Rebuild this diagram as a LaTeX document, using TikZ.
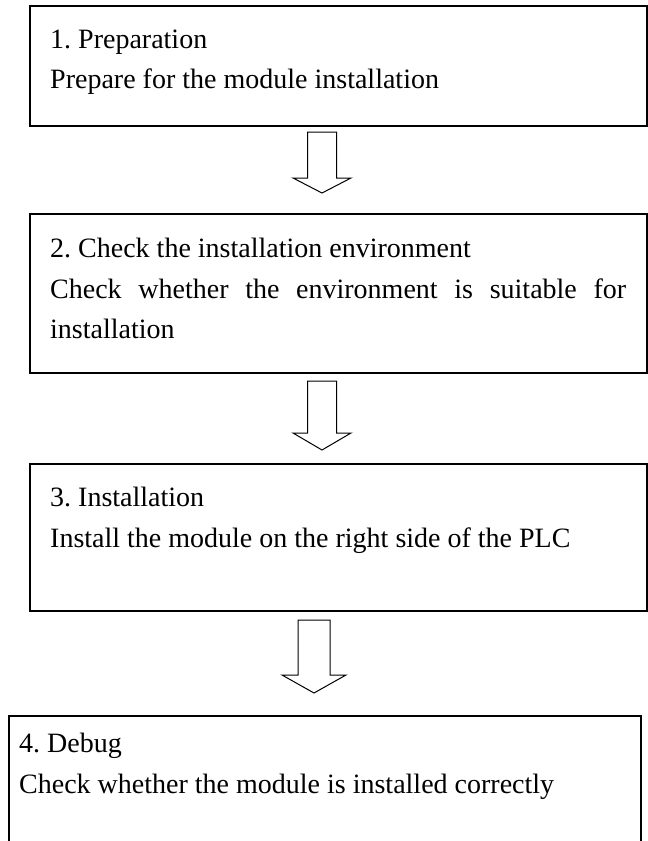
\documentclass[tikz,border=0pt]{standalone}
\usepackage{fontspec}
\setmainfont{Liberation Serif}
\usetikzlibrary{positioning}
\frenchspacing
\tikzset{
    stepbox/.style={draw, rectangle, line width=1.8pt, inner sep=0pt, outer sep=0pt, anchor=north west},
    steptext/.style={anchor=base west, inner sep=0pt, font=\fontsize{28}{40}\selectfont},
    flowarrow/.style={draw, line width=1pt, line join=miter}
}
\newcommand{\hollowdown}[6]{%
    \path[flowarrow] (#1-#5,#2) -- (#1+#5,#2) -- (#1+#5,#3) -- (#1+#6,#3)
        -- (#1,#4) -- (#1-#6,#3) -- (#1-#5,#3) -- cycle;}

\begin{document}
\begin{tikzpicture}[x=1pt, y=-1pt]
    \useasboundingbox (0,0) rectangle (648,841);

    \node[stepbox, minimum width=617pt, minimum height=120pt] (prep) at (30,6) {};
    \node[stepbox, minimum width=617pt, minimum height=159pt] (env) at (30,214) {};
    \node[stepbox, minimum width=617pt, minimum height=147pt] (inst) at (30,464) {};
    \node[stepbox, minimum width=632pt, minimum height=200pt] (debug) at (9,716) {};

    \node[steptext] (prep1) at (50,48) {1. Preparation};
    \node[steptext] (prep2) at (50,88) {Prepare for the module installation};

    \node[steptext] (env1) at (50,257) {2. Check the installation environment};
    \node[steptext] (env2) at (50,298) {\makebox[576pt][s]{Check whether the environment is suitable for}};
    \node[steptext] (env3) at (50,338) {installation};

    \node[steptext] (inst1) at (50,506) {3. Installation};
    \node[steptext] (inst2) at (50,547) {Install the module on the right side of the PLC};

    \node[steptext] (debug1) at (19,752) {4. Debug};
    \node[steptext] (debug2) at (19,793) {Check whether the module is installed correctly};

    \hollowdown{322}{132}{178}{193}{14.5}{29}
    \hollowdown{322}{381}{433}{450}{14.5}{29}
    \hollowdown{314}{620}{675}{693}{16}{32}
\end{tikzpicture}
\end{document}
